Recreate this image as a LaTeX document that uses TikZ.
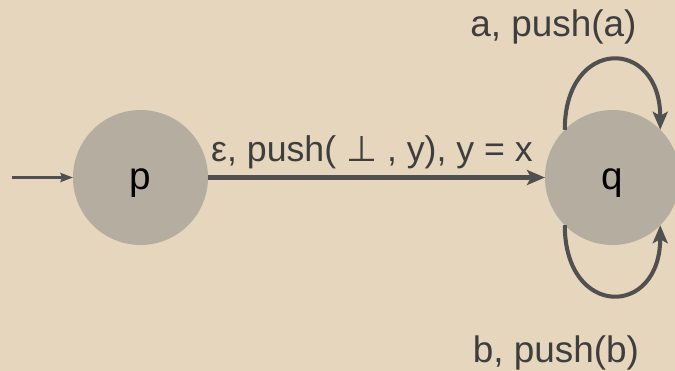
\documentclass[tikz,border=0pt]{standalone}
\usepackage{fontspec}
\setmainfont{Liberation Sans}
\newfontfamily\symfont{DejaVu Sans}
\usetikzlibrary{arrows.meta, positioning}
\definecolor{BG}{RGB}{230,214,189}
\definecolor{ST}{RGB}{181,174,160}
\definecolor{LN}{RGB}{80,80,80}
\definecolor{TX}{RGB}{62,62,62}

\begin{document}
\begin{tikzpicture}[
  state/.style={circle, fill=ST, draw=none, minimum size=2.7cm,
                inner sep=0pt, outer sep=0pt, text height=18.3pt, text depth=4.6pt,
                font=\fontsize{22}{26}\selectfont, text=black},
  trans/.style={-{Stealth[length=0.36cm, width=0.3cm, inset=0.08cm]},
                line width=2.3pt, draw=LN},
  init/.style={-{Stealth[length=0.25cm, width=0.18cm, inset=0.03cm]},
               line width=1.4pt, draw=LN},
  lbl/.style={font=\fontsize{21}{25}\selectfont, text=TX, anchor=base}
]
\fill[BG] (0,0) rectangle (13.5,-7.42);
\useasboundingbox (0,0) rectangle (13.5,-7.42);

\node[state] (p) at (2.81,-3.55) {p};
\node[state] (q) at (12.25,-3.55) {q};
\coordinate (start) at (0.24,-3.55);

\draw[init] (start) -- (p);
\draw[trans] (p) -- (q);
\draw[trans] (q.135) to[out=90, in=90, looseness=2.5] (q.45);
\draw[trans] (q.225) to[out=-90, in=-90, looseness=2.5] (q.-45);

% Labels
\node[lbl, font=\fontsize{20.3}{24}\selectfont] (lpq) at (7.44,-3.24)
  {ε, push( {\symfont ⊥} , y), y = x};
\node[lbl] (laa) at (11.07,-0.74) {a, push(a)};
\node[lbl] (lbb) at (11.12,-7.24) {b, push(b)};
\end{tikzpicture}
\end{document}
